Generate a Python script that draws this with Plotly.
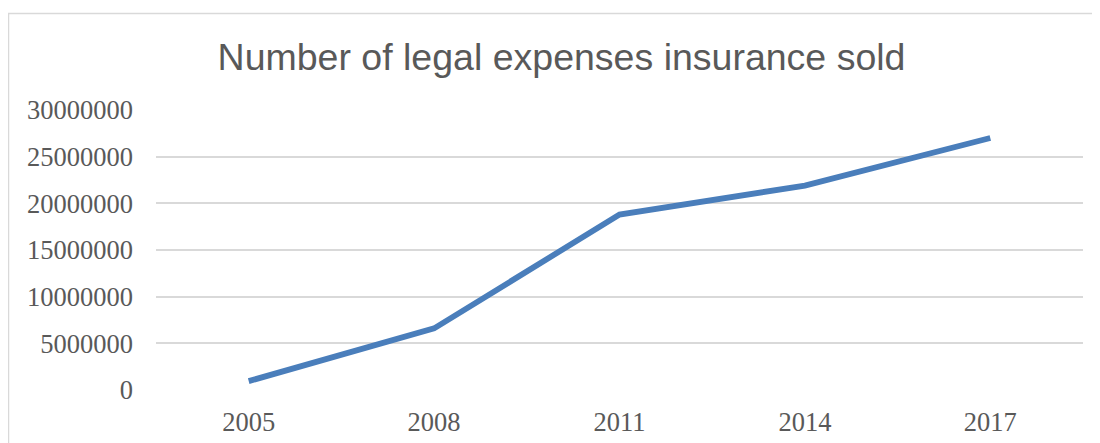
import plotly.graph_objects as go

years = ["2005", "2008", "2011", "2014", "2017"]
sold = [950000, 6600000, 18800000, 21900000, 27000000]
y_ticks = [0, 5000000, 10000000, 15000000, 20000000, 25000000, 30000000]

# page body has an 8px margin, so the figure is drawn 8px in from the window edge
OFF = 8
W, H = 1100 - OFF, 443 - OFF
L, T = 156 - OFF, 110 - OFF
R = W - (1083 - OFF)
B = H - (390 - OFF)
pw, ph = W - L - R, H - T - B

fig = go.Figure()
fig.add_trace(go.Scatter(
    x=years, y=sold, mode="lines",
    line=dict(color="#4A7EBB", width=5.8),
    hoverinfo="x+y", showlegend=False,
))

grid = "#D9D9D9"
tick_font = dict(family="Liberation Serif, Times New Roman, serif", size=26.5, color="#595959")

fig.update_layout(
    width=W, height=H,
    margin=dict(l=L, r=R, t=T, b=B),
    paper_bgcolor="white", plot_bgcolor="white",
    title=dict(
        text="Number of legal expenses insurance sold",
        font=dict(family="Liberation Sans, Arial, sans-serif", size=37.5, color="#595959"),
        x=(561.5 - OFF) / W, xanchor="center", xref="container",
        y=1 - (57 - OFF) / H, yanchor="middle", yref="container",
    ),
    xaxis=dict(
        type="category", range=[-0.5, 4.5], automargin=False,
        showgrid=False, zeroline=False, showline=False,
        ticks="", tickfont=tick_font, ticklabelstandoff=13,
    ),
    yaxis=dict(
        range=[0, 30000000], tickvals=y_ticks, tickformat="d", automargin=False,
        showgrid=True, gridcolor=grid, gridwidth=1.5,
        zeroline=False, showline=False,
        ticks="", tickfont=tick_font, ticklabelstandoff=22,
    ),
    shapes=[dict(
        type="rect", xref="paper", yref="paper",
        x0=(8.5 - OFF - L) / pw, x1=(W + 10 - L) / pw,
        y0=(H - B - (H + 10)) / ph, y1=(H - B - (13.5 - OFF)) / ph,
        line=dict(color=grid, width=1.5), fillcolor="rgba(0,0,0,0)", layer="below",
    )],
)

fig.write_html("out.html")
